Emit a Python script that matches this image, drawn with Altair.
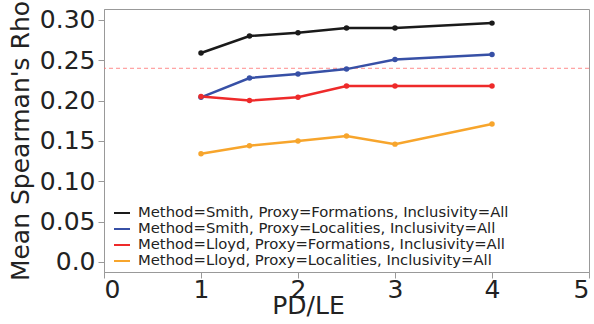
import altair as alt
import pandas as pd

pdle = [1, 1.5, 2, 2.5, 3, 4]
series_names = [
    "Method=Smith, Proxy=Formations, Inclusivity=All",
    "Method=Smith, Proxy=Localities, Inclusivity=All",
    "Method=Lloyd, Proxy=Formations, Inclusivity=All",
    "Method=Lloyd, Proxy=Localities, Inclusivity=All",
]
smith_form = [0.259, 0.280, 0.284, 0.290, 0.290, 0.296]
smith_loc = [0.204, 0.228, 0.233, 0.239, 0.251, 0.257]
lloyd_form = [0.205, 0.200, 0.204, 0.218, 0.218, 0.218]
lloyd_loc = [0.134, 0.144, 0.150, 0.156, 0.146, 0.171]
colors = ["#1a1a1a", "#3750a6", "#ee2a2a", "#f7a52c"]
ref_value = [0.24]

rows = []
for name, vals in zip(series_names, [smith_form, smith_loc, lloyd_form, lloyd_loc]):
    for x, v in zip(pdle, vals):
        rows.append({"series": name, "x": x, "y": v})
df = pd.DataFrame(rows)
ref_df = pd.DataFrame({"y": ref_value})

FONT = "DejaVu Sans"

xscale = alt.Scale(domain=[0, 5], nice=False)
yscale = alt.Scale(domain=[-0.0125, 0.3135], nice=False)
color = alt.Color(
    "series:N",
    scale=alt.Scale(domain=series_names, range=colors),
    legend=alt.Legend(
        title=None,
        orient="none",
        legendX=9,
        legendY=195,
        symbolType="stroke",
        symbolSize=256,
        symbolStrokeWidth=2,
        labelFontSize=14.8,
        labelFont=FONT,
        labelColor="#222222",
        rowPadding=0,
        labelOffset=7,
        labelLimit=500,
    ),
)

xenc = alt.X(
    "x:Q",
    scale=xscale,
    axis=alt.Axis(
        title="PD/LE",
        values=[0, 1, 2, 3, 4, 5],
        format="d",
        grid=False,
        labelFontSize=25,
        titleFontSize=25,
        titleFontWeight="normal",
        labelFont=FONT,
        titleFont=FONT,
        labelColor="#222222",
        titleColor="#222222",
        tickColor="#999999",
        domainColor="#999999",
        tickSize=6,
        labelPadding=-1,
        titlePadding=-9,
        titleX=204,
        titleAlign="center",
    ),
)
yenc = alt.Y(
    "y:Q",
    scale=yscale,
    axis=alt.Axis(
        title="Mean Spearman's Rho",
        values=[0, 0.05, 0.1, 0.15, 0.2, 0.25, 0.3],
        labelExpr="datum.value == 0 ? '0.0' : format(datum.value, '.2f')",
        grid=False,
        labelFontSize=25,
        titleFontSize=25,
        titleFontWeight="normal",
        labelFont=FONT,
        titleFont=FONT,
        labelColor="#222222",
        titleColor="#222222",
        tickColor="#999999",
        domainColor="#999999",
        tickSize=6,
        labelPadding=3,
        titlePadding=6,
    ),
)

lines = alt.Chart(df).mark_line(strokeWidth=2.5).encode(x=xenc, y=yenc, color=color)
points = alt.Chart(df).mark_point(filled=True, size=30, opacity=1).encode(
    x="x:Q", y="y:Q", color=alt.Color("series:N", scale=alt.Scale(domain=series_names, range=colors), legend=None)
)
ref = alt.Chart(ref_df).mark_rule(color="#ff7070", strokeDash=[4, 3], strokeWidth=1, opacity=0.8).encode(y="y:Q")

chart = (
    alt.layer(ref, lines, points)
    .properties(
        width=485,
        height=263,
        autosize=alt.AutoSizeParams(type="none"),
        padding={"left": 104, "top": 9, "right": 5, "bottom": 52},
        background="white",
    )
    .configure_view(stroke="#999999", strokeWidth=1)
)

chart.save("out.html", embed_options={"renderer": "svg", "actions": False})
